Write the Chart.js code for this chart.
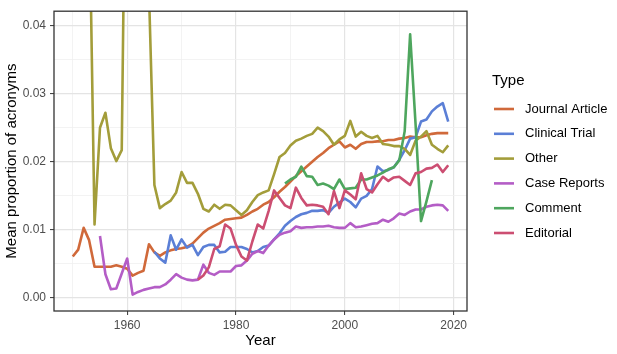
<!DOCTYPE html>
<html>
<head>
<meta charset="utf-8">
<script src="https://cdn.jsdelivr.net/npm/chart.js@4.4.1/dist/chart.umd.min.js"></script>
<style>
  body { margin: 0; background: #ffffff; }
  #wrap { width: 617px; height: 354px; }
</style>
</head>
<body>
<div id="wrap"><canvas id="acroChart"></canvas></div>
<script>
// years on the x axis
var years = [1950,1951,1952,1953,1954,1955,1956,1957,1958,1959,
             1960,1961,1962,1963,1964,1965,1966,1967,1968,1969,
             1970,1971,1972,1973,1974,1975,1976,1977,1978,1979,
             1980,1981,1982,1983,1984,1985,1986,1987,1988,1989,
             1990,1991,1992,1993,1994,1995,1996,1997,1998,1999,
             2000,2001,2002,2003,2004,2005,2006,2007,2008,2009,
             2010,2011,2012,2013,2014,2015,2016,2017,2018,2019];

// mean proportion of acronyms per type (null = no papers that year)
var journalArticle = [0.0061,0.0071,0.0103,0.0085,0.0046,0.0046,0.0046,0.0046,0.0048,0.0046,
                      0.0043,0.0033,0.0037,0.0040,0.0079,0.0067,0.0062,0.0067,0.0070,0.0072,
                      0.0073,0.0075,0.0080,0.0088,0.0096,0.0102,0.0106,0.0110,0.0115,0.0116,
                      0.0117,0.0118,0.0122,0.0127,0.0131,0.0137,0.0141,0.0148,0.0156,0.0163,
                      0.0171,0.0179,0.0186,0.0193,0.0200,0.0207,0.0213,0.0220,0.0225,0.0230,
                      0.0221,0.0225,0.0219,0.0226,0.0229,0.0229,0.0230,0.0230,0.0232,0.0232,
                      0.0234,0.0235,0.0237,0.0236,0.0236,0.0239,0.0241,0.0242,0.0242,0.0242];

var clinicalTrial = [null,null,null,null,null,null,null,null,null,null,
                     null,null,null,null,null,0.0068,0.0058,0.0052,0.0092,0.0071,
                     0.0086,0.0074,0.0078,0.0063,0.0075,0.0078,0.0078,0.0067,0.0068,0.0075,
                     0.0075,0.0075,0.0072,0.0067,0.0069,0.0075,0.0077,0.0086,0.0095,0.0106,
                     0.0113,0.0119,0.0123,0.0125,0.0128,0.0128,0.0129,0.0125,0.0134,0.0140,
                     0.0146,0.0141,0.0133,0.0146,0.0150,0.0160,0.0193,0.0186,0.0188,0.0192,
                     0.0203,0.0217,0.0234,0.0236,0.0259,0.0262,0.0274,0.0281,0.0286,0.0259];

// 1953 and 1960-1964 run above the top of the panel
var other = [null,null,null,0.0600,0.0108,0.0250,0.0272,0.0220,0.0201,0.0217,
             0.0900,0.0900,0.0900,0.0900,0.0450,0.0166,0.0132,0.0138,0.0143,0.0155,
             0.0185,0.0169,0.0169,0.0153,0.0131,0.0127,0.0137,0.0131,0.0137,0.0136,
             0.0129,0.0122,0.0129,0.0141,0.0151,0.0155,0.0158,0.0182,0.0207,0.0213,
             0.0224,0.0231,0.0234,0.0238,0.0241,0.0250,0.0245,0.0237,0.0225,0.0233,
             0.0238,0.0260,0.0237,0.0244,0.0238,0.0235,0.0238,0.0226,0.0225,0.0223,
             0.0223,0.0219,0.0210,0.0231,0.0237,0.0245,0.0225,0.0219,0.0214,0.0224];

var caseReports = [null,null,null,null,null,0.0091,0.0035,0.0013,0.0014,0.0036,
                   0.0058,0.0005,0.0009,0.0012,0.0014,0.0016,0.0016,0.0020,0.0027,0.0035,
                   0.0030,0.0027,0.0026,0.0027,0.0049,0.0037,0.0034,0.0039,0.0039,0.0039,
                   0.0047,0.0048,0.0055,0.0065,0.0069,0.0066,0.0077,0.0086,0.0093,0.0096,
                   0.0098,0.0105,0.0103,0.0104,0.0104,0.0105,0.0105,0.0106,0.0104,0.0103,
                   0.0103,0.0110,0.0104,0.0105,0.0107,0.0109,0.0110,0.0115,0.0112,0.0117,
                   0.0124,0.0122,0.0127,0.0130,0.0130,0.0134,0.0136,0.0137,0.0136,0.0128];

var comment = [null,null,null,null,null,null,null,null,null,null,
               null,null,null,null,null,null,null,null,null,null,
               null,null,null,null,null,null,null,null,null,null,
               null,null,null,null,null,null,null,null,null,0.0168,
               0.0174,0.0178,0.0193,0.0179,0.0178,0.0166,0.0168,0.0165,0.0160,0.0174,
               0.0160,0.0161,0.0162,0.0174,0.0174,0.0177,0.0180,0.0184,0.0189,0.0192,
               0.0202,0.0245,0.0387,0.0255,0.0113,0.0142,0.0173,null,null,null];

var editorial = [null,null,null,null,null,null,null,null,null,null,
                 null,null,null,null,null,null,null,null,null,null,
                 null,null,null,0.0027,0.0033,0.0045,0.0072,0.0076,0.0108,0.0102,
                 0.0078,0.0061,0.0055,0.0083,0.0108,0.0102,0.0128,0.0158,0.0147,0.0136,
                 0.0132,0.0162,0.0147,0.0136,0.0137,0.0136,0.0134,0.0123,0.0157,0.0132,
                 0.0158,0.0152,0.0145,0.0183,0.0160,0.0155,0.0167,0.0178,0.0172,0.0177,
                 0.0178,0.0172,0.0166,0.0183,0.0185,0.0190,0.0191,0.0196,0.0185,0.0195];

var typeNames = ['Journal Article', 'Clinical Trial', 'Other', 'Case Reports', 'Comment', 'Editorial'];
var typeValues = [journalArticle, clinicalTrial, other, caseReports, comment, editorial];
var typeColors = ['#D0693A', '#5B7FD6', '#A39D3A', '#B45DC6', '#4EA65E', '#CC4E72'];

var fontFam = "'Liberation Sans', Arial, Helvetica, sans-serif";
Chart.defaults.font.family = fontFam;

function isMajorY(v) {
  var r = Math.round(v * 100);
  return Math.abs(v * 100 - r) < 1e-6;
}
function isMajorX(v) {
  return Math.round(v) % 20 === 0;
}

// build the datasets, last type ends up on top like ggplot
var datasets = [];
for (var i = 0; i < typeNames.length; i++) {
  var vals = typeValues[i];
  datasets.push({
    label: typeNames[i],
    data: years.map(function (yr, j) { return { x: yr, y: vals[j] }; }),
    borderColor: typeColors[i],
    backgroundColor: typeColors[i],
    borderWidth: 2.6,
    borderJoinStyle: 'round',
    pointRadius: 0,
    tension: 0,
    spanGaps: false,
    order: typeNames.length - i
  });
}

// ggplot style panel border on top of the lines
var panelBorder = {
  id: 'panelBorder',
  afterDatasetsDraw: function (chart) {
    var a = chart.chartArea;
    var ctx = chart.ctx;
    ctx.save();
    ctx.strokeStyle = '#333333';
    ctx.lineWidth = 1.3;
    ctx.strokeRect(a.left, a.top, a.right - a.left, a.bottom - a.top);
    ctx.restore();
  }
};

// legend on the right, drawn by hand
var typeLegend = {
  id: 'typeLegend',
  afterDraw: function (chart) {
    var ctx = chart.ctx;
    ctx.save();
    ctx.textBaseline = 'middle';
    ctx.textAlign = 'left';
    ctx.fillStyle = '#000000';
    ctx.font = '15px ' + fontFam;
    ctx.fillText('Type', 492, 81);
    ctx.font = '13px ' + fontFam;
    for (var k = 0; k < typeNames.length; k++) {
      var yy = 109 + k * 24.8;
      ctx.strokeStyle = typeColors[k];
      ctx.lineWidth = 2.6;
      ctx.lineCap = 'butt';
      ctx.beginPath();
      ctx.moveTo(494, yy);
      ctx.lineTo(514, yy);
      ctx.stroke();
      ctx.fillStyle = '#000000';
      ctx.fillText(typeNames[k], 525, yy);
    }
    ctx.restore();
  }
};

var ctx = document.getElementById('acroChart').getContext('2d');
var acroChart = new Chart(ctx, {
  type: 'line',
  data: { datasets: datasets },
  plugins: [panelBorder, typeLegend],
  options: {
    responsive: true,
    maintainAspectRatio: false,
    animation: false,
    layout: { padding: { top: 7, right: 150, bottom: 0, left: 0 } },
    plugins: {
      legend: { display: false },
      tooltip: { enabled: false }
    },
    scales: {
      x: {
        type: 'linear',
        min: 1946.55,
        max: 2022.45,
        afterFit: function (scale) { scale.height = 43; },
        border: { display: false },
        grid: {
          color: function (c) { return c.tick && isMajorX(c.tick.value) ? '#E4E4E4' : '#F0F0F0'; },
          lineWidth: function (c) { return c.tick && isMajorX(c.tick.value) ? 1.2 : 0.8; },
          tickColor: function (c) { return c.tick && isMajorX(c.tick.value) ? '#333333' : 'rgba(0,0,0,0)'; },
          tickLength: 4,
          tickWidth: 1
        },
        ticks: {
          stepSize: 10,
          includeBounds: false,
          autoSkip: false,
          maxRotation: 0,
          padding: 3,
          color: '#4D4D4D',
          font: { size: 12 },
          callback: function (v) { return isMajorX(v) ? String(v) : ''; }
        },
        title: {
          display: true,
          text: 'Year',
          color: '#000000',
          font: { size: 15 },
          padding: { top: 0, bottom: 4 }
        }
      },
      y: {
        type: 'linear',
        min: -0.0019,
        max: 0.0421,
        afterFit: function (scale) { scale.width = 54; },
        border: { display: false },
        grid: {
          color: function (c) { return c.tick && isMajorY(c.tick.value) ? '#E4E4E4' : '#F0F0F0'; },
          lineWidth: function (c) { return c.tick && isMajorY(c.tick.value) ? 1.2 : 0.8; },
          tickColor: function (c) { return c.tick && isMajorY(c.tick.value) ? '#333333' : 'rgba(0,0,0,0)'; },
          tickLength: 4,
          tickWidth: 1
        },
        ticks: {
          stepSize: 0.005,
          includeBounds: false,
          autoSkip: false,
          padding: 4,
          color: '#4D4D4D',
          font: { size: 12 },
          callback: function (v) { return isMajorY(v) ? (Math.round(v * 100) / 100).toFixed(2) : ''; }
        },
        title: {
          display: true,
          text: 'Mean proportion of acronyms',
          color: '#000000',
          font: { size: 15 },
          padding: { top: 3, bottom: 0 }
        }
      }
    }
  }
});
</script>
</body>
</html>
